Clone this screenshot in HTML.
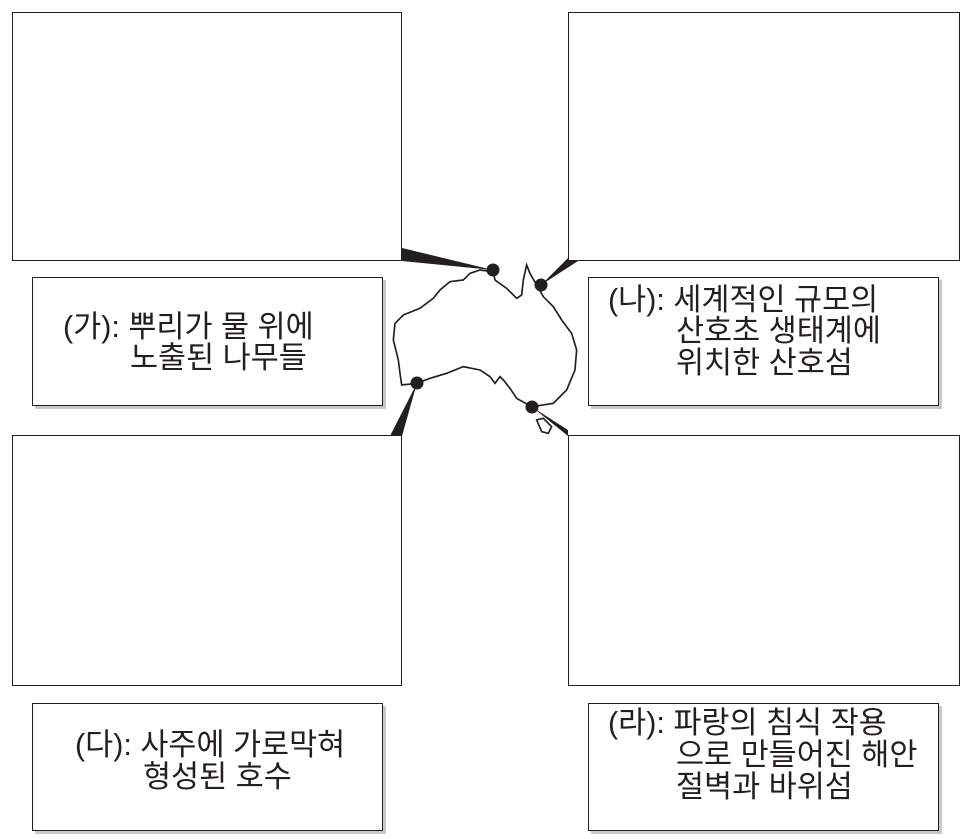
<!DOCTYPE html>
<html><head><meta charset="utf-8"><style>
body{margin:0;width:970px;height:839px;background:#fff;position:relative;overflow:hidden;font-family:"Liberation Sans","Noto Sans CJK KR",sans-serif;color:#231f20}
.b{position:absolute;border:1.5px solid #231f20;box-sizing:border-box;background:#fff}
.l{position:absolute;border:1.5px solid #231f20;box-sizing:border-box;background:#fff;box-shadow:3px 3px 0 #c8c8c8}
.t{position:absolute;font-size:30.5px;line-height:30px;white-space:nowrap}
</style></head><body>
<div class="b" style="left:12px;top:12px;width:390px;height:249px"></div>
<div class="b" style="left:568px;top:12px;width:392px;height:249px"></div>
<div class="b" style="left:12px;top:435px;width:390px;height:251px"></div>
<div class="b" style="left:568px;top:435px;width:392px;height:251px"></div>
<div class="l" style="left:32px;top:277px;width:351px;height:129px"></div>
<div class="l" style="left:588px;top:277px;width:351px;height:129px"></div>
<div class="l" style="left:32px;top:703px;width:351px;height:128px"></div>
<div class="l" style="left:588px;top:703px;width:351px;height:128px"></div>
<svg style="position:absolute;left:0;top:0" width="970" height="839">
<polygon points="402,248 402,261 493,270" fill="#231f20"/>
<polygon points="568,258 568,261 578,261 541,285" fill="#231f20"/>
<polygon points="390,436 402,436 417,383" fill="#231f20"/>
<polygon points="568,436 568,430 532,407" fill="#231f20"/>
<g transform="translate(380,230) scale(0.3333)" fill="none" stroke="#231f20" stroke-width="5">
<path d="M340,125 L345,150 380,175 410,205 425,195 430,150 440,105 450,130 470,165 490,200 520,230 545,270 575,310 590,360 585,420 560,480 520,520 490,525 455,530 410,505 390,475 370,450 360,440 345,460 330,440 300,420 250,410 200,430 150,445 110,460 65,465 60,430 55,390 40,330 45,280 70,255 120,235 160,205 180,180 210,155 250,150 270,130 300,120 Z"/>
<path d="M470,570 L490,565 515,590 505,610 485,605 Z"/>
</g>
<circle cx="493" cy="270" r="6.5" fill="#231f20"/>
<circle cx="541" cy="285" r="6.5" fill="#231f20"/>
<circle cx="417" cy="383" r="6.5" fill="#231f20"/>
<circle cx="532" cy="407" r="6.5" fill="#231f20"/>
</svg>
<div class="t" style="left:63px;top:312px">(가): 뿌리가 물 위에</div>
<div class="t" style="left:130px;top:343px">노출된 나무들</div>
<div class="t" style="left:608px;top:285px">(나): 세계적인 규모의</div>
<div class="t" style="left:676px;top:316px">산호초 생태계에</div>
<div class="t" style="left:676px;top:348px">위치한 산호섬</div>
<div class="t" style="left:75px;top:730px">(다): 사주에 가로막혀</div>
<div class="t" style="left:143px;top:762px">형성된 호수</div>
<div class="t" style="left:608px;top:708px">(라): 파랑의 침식 작용</div>
<div class="t" style="left:676px;top:740px">으로 만들어진 해안</div>
<div class="t" style="left:676px;top:772px">절벽과 바위섬</div>
</body></html>
